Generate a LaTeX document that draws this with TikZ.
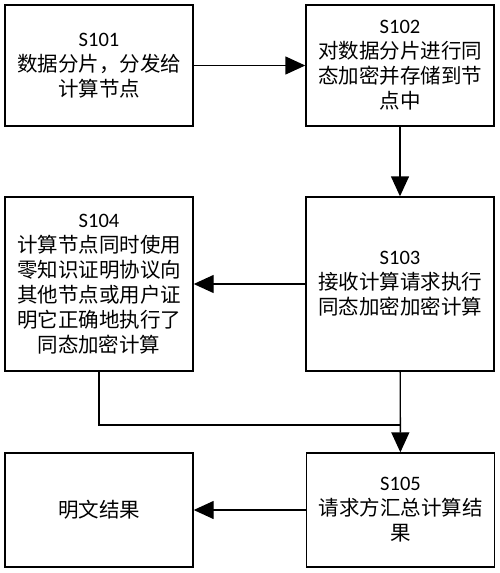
\documentclass[tikz,border=0pt]{standalone}
\usepackage{fontspec}
\setmainfont{Carlito}
\newfontfamily\cjk{Noto Sans CJK SC}
\usetikzlibrary{arrows.meta}
\begin{document}
\begin{tikzpicture}[x=1pt,y=-1pt,
  stepbox/.style={draw=black,line width=1.4pt,minimum width=188pt,align=center,inner sep=0pt,
    font=\cjk\fontsize{20.5}{25}\selectfont},
  conn/.style={line width=1.4pt},
  arr/.style={conn,-{Triangle[length=20pt,width=18pt]}}]
\useasboundingbox (0,0) rectangle (500,573);
\node[stepbox,minimum height=121pt] (s101) at (99,65.5) {{\rmfamily S101}\\数据分片，分发给\\计算节点};
\node[stepbox,minimum height=121pt] (s102) at (400,65.5) {{\rmfamily S102}\\对数据分片进行同\\态加密并存储到节\\点中};
\node[stepbox,minimum height=174pt] (s103) at (400,284) {{\rmfamily S103}\\接收计算请求执行\\同态加密加密计算};
\node[stepbox,minimum height=174pt] (s104) at (99,284) {{\rmfamily S104}\\计算节点同时使用\\零知识证明协议向\\其他节点或用户证\\明它正确地执行了\\同态加密计算};
\node[stepbox,minimum height=114pt] (s105) at (400.5,510) {{\rmfamily S105}\\请求方汇总计算结\\果};
\node[stepbox,minimum height=114pt] (res) at (99,510) {明文结果};
\coordinate (j) at (400,425);
\draw[arr] (s101) -- (s102);
\draw[arr] (s102) -- (s103);
\draw[arr] (s103) -- (s104);
\draw[arr] (s103) -- (s105);
\draw[conn] (s104.south) -- (s104.south |- j) -- (j);
\draw[arr] (s105) -- (res);
\end{tikzpicture}
\end{document}
